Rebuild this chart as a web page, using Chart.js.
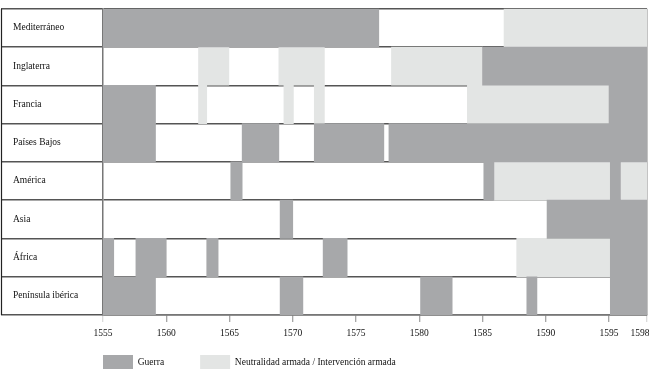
<!DOCTYPE html>
<html>
<head>
<meta charset="utf-8">
<script src="https://cdn.jsdelivr.net/npm/chart.js@4"></script>
<style>
  html, body { margin: 0; padding: 0; background: #fff; }
</style>
</head>
<body>
<canvas id="timeline" width="649" height="370"></canvas>
<script>
// Filas del cronograma
const regions = ['Mediterráneo', 'Inglaterra', 'Francia', 'Países Bajos', 'América', 'Asia', 'África', 'Península ibérica'];

// Guerra: fila, año inicio, año fin
const guerraRow = ['Mediterráneo', 'Inglaterra', 'Francia', 'Francia',
    'Países Bajos', 'Países Bajos', 'Países Bajos', 'Países Bajos',
    'América', 'América', 'América', 'Asia', 'Asia',
    'África', 'África', 'África', 'África', 'África',
    'Península ibérica', 'Península ibérica', 'Península ibérica', 'Península ibérica', 'Península ibérica'];
const guerraStart = [1555, 1585.0, 1555, 1595.0,
    1555, 1566.0, 1571.7, 1577.6,
    1565.1, 1585.1, 1595.1, 1569.0, 1590.1,
    1555, 1557.6, 1563.2, 1572.4, 1595.1,
    1555, 1569.0, 1580.1, 1588.5, 1595.1];
const guerraEnd = [1576.8, 1598, 1559.15, 1598,
    1559.15, 1568.9, 1577.2, 1598,
    1566.0, 1585.9, 1595.9, 1570.0, 1598,
    1555.85, 1560.0, 1564.1, 1574.3, 1598,
    1559.15, 1570.8, 1582.6, 1589.3, 1598];

// Neutralidad armada / Intervención armada
const neutralRow = ['Mediterráneo', 'Inglaterra', 'Inglaterra', 'Inglaterra',
    'Francia', 'Francia', 'Francia', 'Francia', 'América', 'América', 'África'];
const neutralStart = [1586.7, 1562.55, 1568.9, 1577.8, 1562.55, 1569.3, 1571.7, 1583.8, 1585.9, 1595.9, 1587.7];
const neutralEnd = [1598, 1564.95, 1572.5, 1585.0, 1563.2, 1570.05, 1572.5, 1595.0, 1595.1, 1598, 1595.1];

// Años marcados en el eje
const tickYears = [1555, 1560, 1565, 1570, 1575, 1580, 1585, 1590, 1595, 1598];

const firstYear = tickYears[0];
const lastYear = tickYears[tickYears.length - 1];
const lastLabelAt = lastYear - 0.55; // la última etiqueta va algo a la izquierda

function segments(rows, starts, ends) {
    return rows.map((r, i) => ({ y: r, x: [starts[i], ends[i]] }));
}

Chart.defaults.font.family = '"Liberation Serif", "DejaVu Serif", serif';
Chart.defaults.font.size = 9.5;
Chart.defaults.color = '#111';

// borde izquierdo de la columna de nombres y posición de la leyenda
const framePlugin = {
    id: 'frame',
    afterLayout(chart) {
        const lg = chart.legend;
        if (lg) {
            const pad = lg.options.labels.padding;
            lg.left = chart.chartArea.left - pad;
            lg.right = chart.chartArea.right - pad;
            lg.top = lg.bottom - lg.options.labels.boxHeight - pad - 1;
        }
    },
    afterDraw(chart) {
        const { ctx, chartArea } = chart;
        ctx.save();
        ctx.strokeStyle = '#222';
        ctx.lineWidth = 1.2;
        ctx.beginPath();
        ctx.moveTo(1.5, chartArea.top);
        ctx.lineTo(1.5, chartArea.bottom);
        ctx.stroke();
        ctx.restore();
    }
};

new Chart(document.getElementById('timeline').getContext('2d'), {
    type: 'bar',
    data: {
        labels: regions,
        datasets: [{
            label: 'Guerra',
            data: segments(guerraRow, guerraStart, guerraEnd),
            backgroundColor: '#a7a8aa',
            borderWidth: 0,
            grouped: false,
            barPercentage: 1,
            categoryPercentage: 1
        }, {
            label: 'Neutralidad armada / Intervención armada',
            data: segments(neutralRow, neutralStart, neutralEnd),
            backgroundColor: '#e3e5e4',
            borderWidth: 0,
            grouped: false,
            barPercentage: 1,
            categoryPercentage: 1
        }]
    },
    options: {
        indexAxis: 'y',
        responsive: false,
        animation: false,
        layout: { padding: { top: 7, left: 13, right: 2, bottom: 0 } },
        scales: {
            x: {
                type: 'linear',
                min: firstYear,
                max: lastYear,
                z: 1,
                afterBuildTicks(scale) {
                    scale.ticks = tickYears.map(v => ({ value: v }));
                    scale.ticks.push({ value: lastLabelAt });
                },
                afterFit(scale) {
                    scale.height = 24;
                    scale.paddingLeft = 0;
                    scale.paddingRight = 0;
                },
                border: { display: true, color: '#777', width: 1.5 },
                grid: {
                    drawOnChartArea: true,
                    drawTicks: true,
                    tickLength: 7,
                    lineWidth: 1.5,
                    tickWidth: 1,
                    color: c => (c.tick && c.tick.value === lastYear ? '#888' : 'transparent'),
                    tickColor: c => {
                        const v = c.tick ? c.tick.value : null;
                        if (v === lastLabelAt) return 'transparent';
                        return (v === firstYear || v === lastYear) ? '#cfcfcf' : '#888';
                    }
                },
                ticks: {
                    autoSkip: false,
                    maxRotation: 0,
                    padding: 6,
                    color: '#111',
                    callback: v => {
                        if (v === lastLabelAt) return String(lastYear);
                        if (v === lastYear) return '';
                        return String(v);
                    }
                }
            },
            y: {
                type: 'category',
                z: 1,
                afterFit(scale) { scale.width = 90; },
                border: { display: true, color: '#777', width: 1.5 },
                grid: {
                    offset: true,
                    color: '#555',
                    lineWidth: 1.5,
                    drawTicks: true,
                    tickLength: 102
                },
                ticks: {
                    crossAlign: 'far',
                    color: '#111'
                }
            }
        },
        plugins: {
            legend: {
                position: 'bottom',
                align: 'start',
                fullSize: false,
                maxHeight: 31,
                labels: {
                    boxWidth: 30,
                    boxHeight: 14,
                    padding: 36,
                    color: '#111'
                }
            },
            tooltip: { enabled: false }
        }
    },
    plugins: [framePlugin]
});
</script>
</body>
</html>
